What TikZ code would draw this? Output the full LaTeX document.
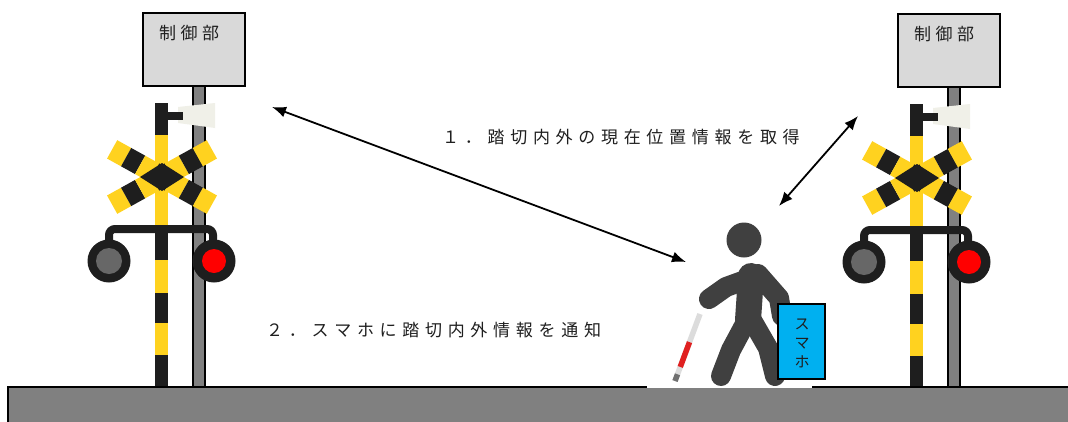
\documentclass[tikz,border=0pt]{standalone}
\usepackage{fontspec}
\newfontfamily\jp{Noto Sans CJK JP}
\usetikzlibrary{arrows.meta,calc}

\definecolor{railyel}{HTML}{FFD21F}
\definecolor{railblk}{HTML}{1E1E1E}
\definecolor{boxgray}{HTML}{D9D9D9}
\definecolor{polegray}{HTML}{808080}
\definecolor{lampoff}{HTML}{676767}
\definecolor{lampred}{HTML}{FF0000}
\definecolor{hornwhite}{HTML}{F0F0E8}
\definecolor{figgray}{HTML}{404040}
\definecolor{phoneblue}{HTML}{00B0F0}
\definecolor{canegray}{HTML}{DCDCDC}
\definecolor{canered}{HTML}{E02020}

% evenly spaced characters: \gapped{pitch}{text}
\newlength\gapw
\newcommand\gapped[2]{\setlength\gapw{#1}\gappedi#2\relax}
\def\gappedi#1{\ifx\relax#1\else\makebox[\gapw][l]{#1}\expandafter\gappedi\fi}

\tikzset{
  jptext/.style={font=\jp\fontsize{17}{20}\selectfont, inner sep=0pt, anchor=west, text=black!88},
  ctrlbox/.style={draw=black, line width=2pt, fill=boxgray, minimum width=102pt, minimum height=73pt, inner sep=0pt},
  link/.style={line width=1.8pt, {Latex[length=14pt,width=11pt]}-{Latex[length=14pt,width=11pt]}},
  limb/.style={draw=figgray, line width=20pt, line cap=round, line join=round},
  crossing/.pic={
    % rear support pole
    \draw[fill=polegray, line width=1.5pt] (193,80) rectangle (205,392);
    % control unit
    \node[ctrlbox] (-box) at (194,49.5) {};
    \node[jptext] (-lbl) at (159,33) {\gapped{21.5pt}{制御部}};
    % horn speaker
    \fill[hornwhite] (178,107) -- (215,103) -- (215,128) -- (178,123) -- cycle;
    % striped main pole
    \foreach \ya/\yb/\col in {103/135/railblk, 135/227/railyel, 227/260/railblk,
        260/293/railyel, 293/323/railblk, 323/355/railyel, 355/392/railblk}
      \fill[\col] (155,\ya) rectangle (168,\yb);
    \fill[railblk] (167,112) rectangle (183,120);
    % crossbuck
    \foreach \ang in {29,-29}{
      \begin{scope}[shift={(162,177)}, rotate=\ang]
        \foreach \a/\b/\col in {-57/-41/railyel, -41/-25/railblk, -25/-9/railyel,
            -9/9/railblk, 9/25/railyel, 25/41/railblk, 41/57/railyel}
          \fill[\col] (\a,-10.5) rectangle (\b,10.5);
      \end{scope}
    }
    \fill[railblk] (140,177) -- (162,163) -- (184,177) -- (162,191) -- cycle;
    % lamp bracket and lamps
    \draw[railblk, line width=8pt, rounded corners=6pt] (109,250) -- (109,229) -- (213,229) -- (213,250);
    \fill[railblk] (109,261) circle[radius=21.5];
    \fill[lampoff] (109,261) circle[radius=13];
    \fill[railblk] (214,261) circle[radius=21.5];
    \fill[lampred] (214,261) circle[radius=12];
  }
}

\begin{document}
\begin{tikzpicture}[x=1pt,y=-1pt]
\useasboundingbox (0,0) rectangle (1068,421);
\fill[white] (0,0) rectangle (1068,421);

% level crossings
\pic (crossL) at (0,0) {crossing};
\pic (crossR) at (755,1) {crossing};

% ground
\fill[polegray] (8,387) rectangle (1072,425);
\draw[black, line width=2.5pt] (8,425) -- (8,387) -- (1072,387);
\fill[white] (647,385.6) rectangle (812,388.4);

% walking person with white cane
\coordinate (caneTop) at (700,314);
\coordinate (caneEnd) at (675,381);
\draw[canegray, line width=5.5pt] (caneTop) -- (caneEnd);
\draw[canered, line width=5.5pt] ($(caneTop)!0.42!(caneEnd)$) -- ($(caneTop)!0.79!(caneEnd)$);
\draw[figgray!75, line width=5.5pt] ($(caneTop)!0.9!(caneEnd)$) -- (caneEnd);

\fill[figgray] (744,240) circle[radius=17.5];
\draw[limb] (758,274) -- (779,298) -- (782,316);
\draw[limb, line width=26pt] (751,276) -- (748,320);
\draw[limb] (746,322) -- (731,350) -- (721,376);
\draw[limb] (753,322) -- (768,348) -- (775,376);
\draw[limb] (748,279) -- (726,287) -- (709,299);

% smartphone
\node[draw=black, line width=2pt, fill=phoneblue, minimum width=47pt, minimum height=75pt, inner sep=0pt] (phone) at (801.5,341.5) {};
\node[font=\jp\fontsize{15}{19}\selectfont, align=center, inner sep=0pt, text=black!88] (phonelbl) at (802,343) {ス\\マ\\ホ};

% messages
\node[jptext] (msg1) at (442,137) {\gapped{22.7pt}{１．踏切内外の現在位置情報を取得}};
\node[jptext] (msg2) at (266,330) {\gapped{22.7pt}{２．スマホに踏切内外情報を通知}};

% position exchange
\coordinate (cbL) at (272,107);
\coordinate (walkerA) at (686,262);
\draw[link] (cbL) -- (walkerA);
\coordinate (cbR) at (858,116);
\coordinate (walkerB) at (779,206);
\draw[link] (cbR) -- (walkerB);
\end{tikzpicture}
\end{document}
